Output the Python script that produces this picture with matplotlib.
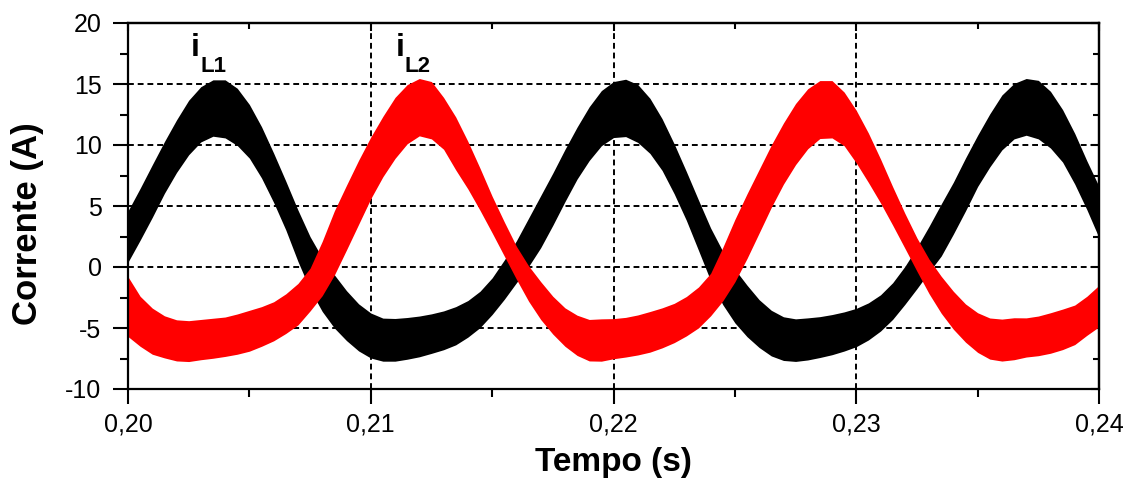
import numpy as np
import matplotlib
matplotlib.use("Agg")
import matplotlib.pyplot as plt
from matplotlib.ticker import MultipleLocator, FuncFormatter

plt.rcParams['font.family'] = ['Liberation Sans', 'DejaVu Sans']

# sample instants (s), 0.5 ms spacing
t = np.round(np.arange(0.2000, 0.24001, 0.0005), 4)

# iL1 (black) ripple band: upper / lower envelope (A)
iL1_upper = [4.6, 6.45, 8.38, 10.28, 12.06, 13.67, 14.78, 15.34, 15.34, 14.65,
             13.32, 11.5, 9.33, 7.04, 4.67, 2.49, 0.75, -0.64, -1.94, -3.02,
             -3.77, -4.19, -4.22, -4.14, -4.02, -3.84, -3.6, -3.25, -2.75, -1.99,
             -0.89, 0.57, 2.15, 4.0, 5.85, 7.7, 9.64, 11.47, 13.14, 14.46,
             15.2, 15.39, 14.96, 13.83, 12.16, 10.09, 7.83, 5.49, 3.2, 1.29,
             -0.19, -1.49, -2.68, -3.55, -4.08, -4.25, -4.17, -4.07, -3.9, -3.68,
             -3.39, -2.94, -2.28, -1.29, 0.04, 1.61, 3.34, 5.17, 6.95, 8.93,
             10.8, 12.55, 14.1, 15.05, 15.45, 15.3, 14.4, 12.9, 10.95, 8.7,
             6.6]
iL1_lower = [0.4, 2.2, 4.07, 6.04, 7.75, 9.2, 10.25, 10.72, 10.58, 9.96,
             8.92, 7.3, 5.29, 3.04, 0.46, -1.85, -3.64, -5.0, -6.03, -6.88,
             -7.46, -7.72, -7.72, -7.56, -7.36, -7.08, -6.78, -6.38, -5.75, -4.97,
             -3.89, -2.65, -1.29, 0.04, 1.58, 3.42, 5.36, 7.21, 8.73, 9.94,
             10.61, 10.69, 10.21, 9.31, 7.92, 6.0, 3.83, 1.37, -1.12, -3.08,
             -4.58, -5.71, -6.6, -7.29, -7.66, -7.74, -7.62, -7.42, -7.19, -6.89,
             -6.53, -5.98, -5.25, -4.29, -3.07, -1.77, -0.41, 0.9, 2.7, 4.6,
             6.6, 8.2, 9.6, 10.5, 10.8, 10.5, 9.75, 8.6, 6.8, 4.7,
             2.4]

# iL2 (red) ripple band: upper / lower envelope (A)
iL2_upper = [-0.8, -2.4, -3.37, -4.0, -4.33, -4.4, -4.3, -4.2, -4.1, -3.85,
             -3.55, -3.25, -2.85, -2.2, -1.35, -0.1, 2.1, 4.6, 6.7, 8.75,
             10.65, 12.35, 13.9, 14.95, 15.45, 15.2, 13.9, 12.3, 10.3, 8.1,
             5.8, 3.7, 1.7, 0.1, -1.2, -2.4, -3.35, -3.95, -4.3, -4.25,
             -4.23, -4.13, -3.93, -3.65, -3.35, -2.98, -2.42, -1.64, -0.52, 1.6,
             3.9, 6.0, 8.0, 10.0, 11.8, 13.4, 14.61, 15.28, 15.28, 14.34,
             12.84, 10.98, 8.85, 6.58, 4.41, 2.38, 0.64, -0.76, -1.99, -3.03,
             -3.75, -4.18, -4.27, -4.16, -4.17, -4.02, -3.75, -3.45, -3.12, -2.4,
             -1.5]
iL2_lower = [-5.7, -6.5, -7.15, -7.45, -7.7, -7.75, -7.6, -7.48, -7.33, -7.15,
             -6.9, -6.5, -6.05, -5.45, -4.75, -3.6, -2.35, -0.66, 1.4, 3.5,
             5.6, 7.4, 8.9, 10.1, 10.75, 10.5, 9.65, 7.96, 6.4, 4.65,
             2.8, 0.9, -1.0, -2.8, -4.3, -5.5, -6.5, -7.25, -7.7, -7.72,
             -7.52, -7.38, -7.21, -6.98, -6.63, -6.2, -5.65, -4.99, -4.0, -2.78,
             -1.22, 0.7, 2.79, 4.89, 6.79, 8.39, 9.69, 10.53, 10.58, 9.94,
             8.53, 6.93, 5.25, 3.43, 1.55, -0.35, -2.19, -3.79, -5.1, -6.16,
             -7.0, -7.55, -7.71, -7.6, -7.38, -7.27, -7.07, -6.77, -6.36, -5.6,
             -4.9]

x_major = [0.20, 0.21, 0.22, 0.23, 0.24]
y_major = [-10, -5, 0, 5, 10, 15, 20]

W, H = 1132, 484
fig = plt.figure(figsize=(W / 100, H / 100), dpi=100)
ax = fig.add_axes([128 / W, 1 - 389 / H, (1099 - 128) / W, (389 - 23) / H])

ax.fill_between(t, iL1_upper, iL1_lower, color='black', lw=0, zorder=2)
ax.fill_between(t, iL2_upper, iL2_lower, color='#ff0000', lw=0, zorder=3)

ax.set_xlim(0.20, 0.24)
ax.set_ylim(-10, 20)
ax.set_xticks(x_major)
ax.set_yticks(y_major)
ax.xaxis.set_minor_locator(MultipleLocator(0.005))
ax.yaxis.set_minor_locator(MultipleLocator(2.5))
ax.xaxis.set_major_formatter(FuncFormatter(lambda v, p: f"{v:.2f}".replace('.', ',')))
ax.yaxis.set_major_formatter(FuncFormatter(lambda v, p: f"{int(round(v))}"))

ax.set_axisbelow(True)
ax.grid(True, which='major', color='black', linestyle=(0, (3, 2)), linewidth=1.4)

for s in ax.spines.values():
    s.set_linewidth(1.6)
    s.set_zorder(5)

ax.tick_params(axis='both', which='major', direction='out', length=11, width=1.5,
               labelsize=18, pad=6, colors='black')
ax.tick_params(axis='both', which='minor', direction='out', length=6, width=1.5)
ax.tick_params(axis='y', which='major', pad=8)

# inward ticks on top / right
secx = ax.secondary_xaxis('top')
secx.set_xticks(x_major)
secx.xaxis.set_minor_locator(MultipleLocator(0.005))
secx.tick_params(which='major', direction='in', length=6, width=1.5, labeltop=False)
secx.tick_params(which='minor', direction='in', length=4, width=1.5)
secx.spines['top'].set_linewidth(1.6)
secy = ax.secondary_yaxis('right')
secy.set_yticks(y_major)
secy.yaxis.set_minor_locator(MultipleLocator(2.5))
secy.tick_params(which='major', direction='in', length=6, width=1.5, labelright=False)
secy.tick_params(which='minor', direction='in', length=4, width=1.5)
secy.spines['right'].set_linewidth(1.6)

fig.text(28 / W, 1 - 224 / H, 'Corrente (A)', rotation=90, ha='center', va='center',
         fontsize=25, fontweight='bold')
fig.text(613 / W, 1 - 462 / H, 'Tempo (s)', ha='center', va='center',
         fontsize=24, fontweight='bold')

fig.text(191 / W, 1 - 56 / H, 'i', fontsize=23, fontweight='bold', va='baseline')
fig.text(200 / W, 1 - 72 / H, 'L1', fontsize=16, fontweight='bold', va='baseline')
fig.text(396 / W, 1 - 56 / H, 'i', fontsize=23, fontweight='bold', va='baseline')
fig.text(405 / W, 1 - 72 / H, 'L2', fontsize=16, fontweight='bold', va='baseline')

fig.savefig('out.png', dpi=100)
